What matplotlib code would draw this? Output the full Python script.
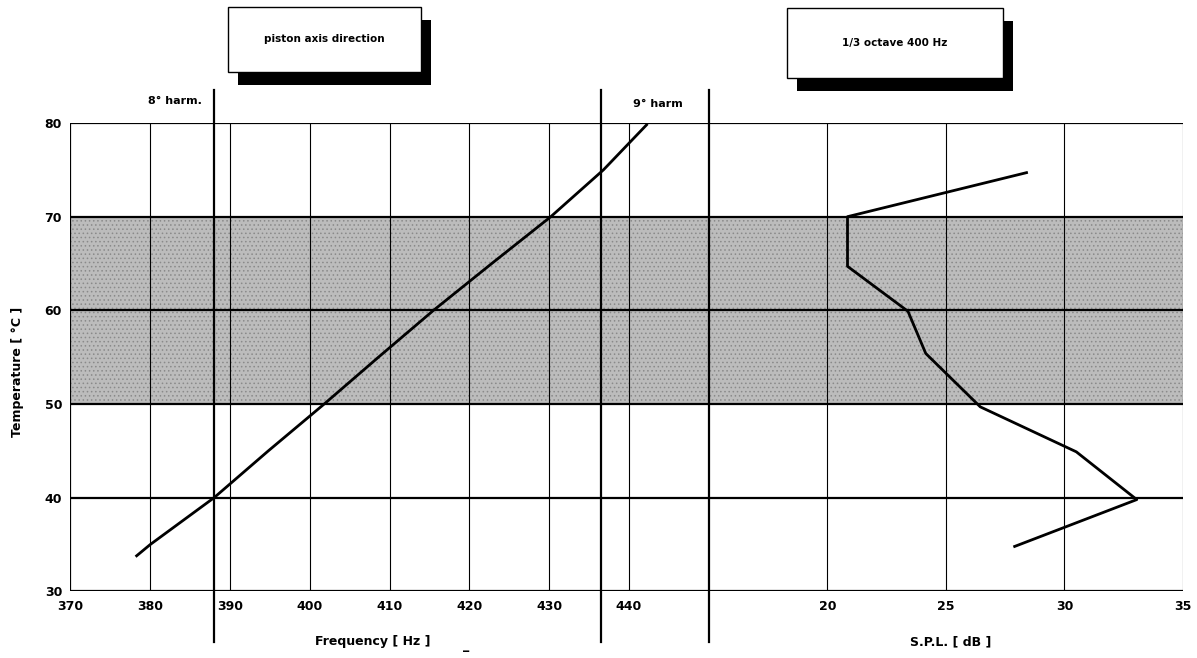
import matplotlib
matplotlib.use("Agg")
import matplotlib.pyplot as plt
from matplotlib.patches import Rectangle

#####   DATA   #####
# Frequency of the piston-axis resonance vs temperature
freq_temp = [33.8, 35, 40, 45, 50, 55, 60, 65, 70, 75, 79.8]
freq_hz = [378.3, 380.0, 388.0, 394.8, 401.8, 408.6, 415.5, 422.8, 430.2, 436.8, 442.2]

# 1/3 octave 400 Hz level vs temperature
spl_temp = [74.7, 70, 64.7, 59.9, 55.4, 49.7, 44.9, 39.8, 34.8]
spl_db = [28.4, 20.85, 20.85, 23.4, 24.15, 26.45, 30.5, 33.05, 27.9]

harm_freqs = [388.0, 436.5]
harm_labels = ["8° harm.", "9° harm"]

freq_ticks = [370, 380, 390, 400, 410, 420, 430, 440]
spl_ticks = [20, 25, 30, 35]
temp_ticks = [30, 40, 50, 60, 70, 80]
band = (50, 70)

#####   FIGURE   #####
W, H = 1197, 658
fig = plt.figure(figsize=(W / 100, H / 100), dpi=100)
plt.rcParams["hatch.linewidth"] = 0.6

def fx(px):
    return px / W

def fy(py):
    return 1 - py / H

left, sep, right = 70.4, 708.8, 1183
top, bottom = 123, 591.4
ax1 = fig.add_axes([fx(left), fy(bottom), fx(sep - left), fy(top) - fy(bottom)])
ax2 = fig.add_axes([fx(sep), fy(bottom), fx(right - sep), fy(top) - fy(bottom)])

tfont = dict(fontsize=9, fontweight="bold")

for ax in (ax1, ax2):
    ax.set_ylim(30, 80)
    for s in ax.spines.values():
        s.set_visible(False)
    ax.axhspan(band[0], band[1], facecolor="#bcbcbc", edgecolor="#8a8a8a",
               hatch="....", lw=0, zorder=0)
    for t in [40, 50, 60, 70, 80, 30]:
        ax.axhline(t, color="black", lw=1.6, zorder=2)
    ax.tick_params(length=0, pad=6)

ax1.set_xlim(370, 450)
ax2.set_xlim(15, 35)

ax1.axvline(370, color="black", lw=0.8, zorder=1)
for f in freq_ticks:
    ax1.axvline(f, color="black", lw=0.8, zorder=1)
for d in spl_ticks:
    ax2.axvline(d, color="black", lw=0.8, zorder=1)

ax1.set_xticks(freq_ticks)
ax1.set_xticklabels([str(v) for v in freq_ticks], **tfont)
ax1.set_yticks(temp_ticks)
ax1.set_yticklabels([str(v) for v in temp_ticks], **tfont)
ax2.set_xticks(spl_ticks)
ax2.set_xticklabels([str(v) for v in spl_ticks], **tfont)
ax2.set_yticks([])

# harmonic markers and panel separator run outside the plot
lo, hi = -(642 - bottom) / (bottom - top), (bottom - 90) / (bottom - top)
for f in harm_freqs:
    ax1.axvline(f, ymin=lo, ymax=hi, color="black", lw=1.6, clip_on=False, zorder=3)
ax2.axvline(15, ymin=lo, ymax=hi, color="black", lw=1.6, clip_on=False, zorder=3)
fig.text(fx(175), fy(101), harm_labels[0], ha="center", va="center",
         fontsize=8, fontweight="bold")
fig.text(fx(658), fy(104), harm_labels[1], ha="center", va="center",
         fontsize=8, fontweight="bold")

# curves
ax1.plot(freq_hz, freq_temp, color="black", lw=2, zorder=4)
ax2.plot(spl_db, spl_temp, color="black", lw=2, zorder=4)

# axis labels
fig.text(fx(373), fy(642), "Frequency [ Hz ]", ha="center", va="center", **tfont)
fig.text(fx(466), fy(646), "_", ha="center", va="center", **tfont)
fig.text(fx(951), fy(642), "S.P.L. [ dB ]", ha="center", va="center", **tfont)
fig.text(fx(18), fy(372), "Temperature [ °C ]", rotation=90,
         ha="center", va="center", **tfont)

# title boxes with drop shadows
def box(x0, y0, x1, y1, text, dx=10, dy=13):
    shadow = Rectangle((fx(x0 + dx), fy(y1 + dy)), fx(x1 - x0), fy(y0) - fy(y1),
                       transform=fig.transFigure, facecolor="black", edgecolor="none")
    frame = Rectangle((fx(x0), fy(y1)), fx(x1 - x0), fy(y0) - fy(y1),
                      transform=fig.transFigure, facecolor="white", edgecolor="black", lw=1)
    fig.patches.extend([shadow, frame])
    fig.text(fx((x0 + x1) / 2), fy((y0 + y1) / 2), text, ha="center", va="center",
             fontsize=7.5, fontweight="bold")

box(228, 7, 421, 72, "piston axis direction")
box(787, 8, 1003, 78, "1/3 octave 400 Hz")

fig.savefig("out.png", dpi=100)
